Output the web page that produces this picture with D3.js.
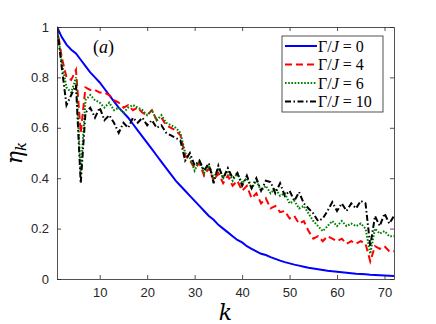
<!DOCTYPE html>
<html lang='en'>
  <head>
    <style type='text/css'>
      body {margin: 0; background-color: #fff;}
    </style>
  </head>
  <body>
    <svg id='chart' width='436' height='324'></svg>

    <script src='https://d3js.org/d3.v7.min.js'></script>
    <script type='text/javascript'>
        // k = 1..72
        var kValues = d3.range(1, 73);
        var xTicks = [10, 20, 30, 40, 50, 60, 70];
        var yTicks = [0, 0.2, 0.4, 0.6, 0.8, 1];
        var seriesNames = ['0', '4', '6', '10'];

        var eta0 = [1.00, 0.96, 0.93, 0.91, 0.895, 0.87, 0.845, 0.82, 0.80, 0.78,
                    0.755, 0.73, 0.705, 0.68, 0.66, 0.64, 0.615, 0.59, 0.565, 0.54,
                    0.515, 0.49, 0.465, 0.44, 0.415, 0.39, 0.37, 0.35, 0.33, 0.31,
                    0.29, 0.27, 0.25, 0.235, 0.215, 0.20, 0.185, 0.17, 0.155, 0.145,
                    0.13, 0.12, 0.11, 0.10, 0.095, 0.087, 0.08, 0.073, 0.067, 0.062,
                    0.057, 0.053, 0.049, 0.045, 0.042, 0.039, 0.036, 0.033, 0.031, 0.029,
                    0.027, 0.025, 0.023, 0.021, 0.020, 0.019, 0.017, 0.016, 0.015, 0.014,
                    0.013, 0.012];
        var eta4 = [1.00, 0.88, 0.80, 0.79, 0.83, 0.58, 0.76, 0.75, 0.75, 0.74,
                    0.74, 0.73, 0.71, 0.70, 0.68, 0.69, 0.67, 0.68, 0.66, 0.65,
                    0.67, 0.63, 0.64, 0.61, 0.60, 0.59, 0.57, 0.49, 0.47, 0.44,
                    0.46, 0.41, 0.44, 0.39, 0.42, 0.38, 0.41, 0.37, 0.39, 0.35,
                    0.37, 0.32, 0.34, 0.30, 0.32, 0.28, 0.29, 0.265, 0.27, 0.24,
                    0.25, 0.22, 0.23, 0.19, 0.16, 0.17, 0.15, 0.17, 0.16, 0.15,
                    0.16, 0.14, 0.15, 0.14, 0.15, 0.14, 0.07, 0.13, 0.12, 0.13,
                    0.11, 0.11];
        var eta6 = [1.00, 0.86, 0.76, 0.74, 0.80, 0.42, 0.71, 0.73, 0.71, 0.70,
                    0.68, 0.70, 0.67, 0.68, 0.66, 0.68, 0.69, 0.68, 0.67, 0.65,
                    0.67, 0.63, 0.65, 0.62, 0.61, 0.60, 0.58, 0.50, 0.48, 0.43,
                    0.47, 0.42, 0.45, 0.40, 0.44, 0.40, 0.43, 0.39, 0.42, 0.38,
                    0.40, 0.36, 0.39, 0.35, 0.37, 0.34, 0.36, 0.33, 0.34, 0.30,
                    0.31, 0.28, 0.29, 0.26, 0.23, 0.21, 0.19, 0.21, 0.23, 0.21,
                    0.23, 0.21, 0.22, 0.21, 0.22, 0.20, 0.10, 0.20, 0.18, 0.19,
                    0.17, 0.17];
        var eta10 = [1.00, 0.84, 0.69, 0.73, 0.77, 0.38, 0.66, 0.68, 0.64, 0.68,
                     0.63, 0.65, 0.62, 0.58, 0.62, 0.60, 0.64, 0.62, 0.64, 0.61,
                     0.63, 0.60, 0.61, 0.58, 0.57, 0.56, 0.55, 0.47, 0.50, 0.45,
                     0.47, 0.43, 0.46, 0.38, 0.45, 0.40, 0.44, 0.40, 0.42, 0.37,
                     0.41, 0.36, 0.40, 0.35, 0.39, 0.385, 0.34, 0.38, 0.33, 0.35,
                     0.31, 0.345, 0.30, 0.28, 0.26, 0.23, 0.24, 0.27, 0.305, 0.27,
                     0.30, 0.27, 0.30, 0.28, 0.31, 0.30, 0.13, 0.25, 0.21, 0.26,
                     0.22, 0.25];

        var colors = ['#0000ff', '#ff0000', '#008000', '#000000'];
        var dashes = [null, '7,4', '1.6,1.6', '6,2.5,1.5,2.5'];
        var allSeries = [eta0, eta4, eta6, eta10];

        var svg = d3.select('#chart');
        var mLeft = 57, mRight = 394, mTop = 27, mBottom = 279;

        var x = d3.scaleLinear().domain([1, 72]).range([mLeft, mRight]);
        var y = d3.scaleLinear().domain([0, 1]).range([mBottom, mTop]);

        svg.append('clipPath').attr('id', 'clip')
          .append('rect').attr('x', mLeft).attr('y', mTop - 2)
          .attr('width', mRight - mLeft).attr('height', mBottom - mTop + 2);

        var line = d3.line()
          .x(function(d, i) { return x(kValues[i]); })
          .y(function(d) { return y(d); });

        allSeries.forEach(function(s, i) {
          svg.append('path')
            .attr('clip-path', 'url(#clip)')
            .attr('d', line(s))
            .attr('fill', 'none')
            .attr('stroke', colors[i])
            .attr('stroke-width', 2)
            .attr('stroke-dasharray', dashes[i]);
        });

        // axes (matlab style: box on, ticks inward)
        var axisColor = '#262626';
        var tickFont = '"Liberation Sans", Arial, sans-serif';

        var xb = svg.append('g').attr('transform', 'translate(0,' + mBottom + ')')
          .call(d3.axisBottom(x).tickValues(xTicks).tickSizeInner(-4).tickSizeOuter(0).tickPadding(9));
        var xt = svg.append('g').attr('transform', 'translate(0,' + mTop + ')')
          .call(d3.axisTop(x).tickValues(xTicks).tickSizeInner(-4).tickSizeOuter(0).tickFormat(''));
        var yl = svg.append('g').attr('transform', 'translate(' + mLeft + ',0)')
          .call(d3.axisLeft(y).tickValues(yTicks).tickSizeInner(-4).tickSizeOuter(0).tickPadding(8)
            .tickFormat(function(d) { return d === 0 || d === 1 ? d : d3.format('.1f')(d); }));
        var yr = svg.append('g').attr('transform', 'translate(' + mRight + ',0)')
          .call(d3.axisRight(y).tickValues(yTicks).tickSizeInner(-4).tickSizeOuter(0).tickFormat(''));

        [xb, xt, yl, yr].forEach(function(g) {
          g.selectAll('path').attr('stroke', axisColor).attr('stroke-width', 0.8);
          g.selectAll('line').attr('stroke', axisColor).attr('stroke-width', 0.8);
          g.selectAll('text').attr('font-family', tickFont).attr('font-size', 13)
            .attr('fill', axisColor);
        });

        // axis labels
        svg.append('text')
          .attr('x', (mLeft + mRight) / 2).attr('y', 320)
          .attr('text-anchor', 'middle')
          .attr('font-family', '"DejaVu Serif", "Liberation Serif", serif')
          .attr('font-style', 'italic').attr('font-size', 22)
          .attr('fill', '#000')
          .text('k');

        var ylab = svg.append('text')
          .attr('transform', 'translate(22,153) rotate(-90)')
          .attr('text-anchor', 'middle')
          .attr('font-family', '"DejaVu Serif", "Liberation Serif", serif')
          .attr('font-style', 'italic').attr('font-size', 22)
          .attr('fill', '#000');
        ylab.append('tspan').text('\u03b7');
        ylab.append('tspan').attr('font-size', 15).attr('dy', 4).text('k');

        // panel label
        var pl = svg.append('text')
          .attr('x', 93).attr('y', 53)
          .attr('font-family', '"Liberation Serif", "DejaVu Serif", serif')
          .attr('font-size', 18)
          .attr('fill', '#000');
        pl.append('tspan').text('(');
        pl.append('tspan').attr('font-style', 'italic').text('a');
        pl.append('tspan').text(')');

        // legend
        var lg = svg.append('g');
        lg.append('rect')
          .attr('x', 282).attr('y', 36).attr('width', 101).attr('height', 76)
          .attr('fill', '#fff').attr('stroke', axisColor).attr('stroke-width', 0.8);

        seriesNames.forEach(function(name, i) {
          var yy = 46 + i * 18.5;
          lg.append('line')
            .attr('x1', 285).attr('x2', 317).attr('y1', yy).attr('y2', yy)
            .attr('stroke', colors[i]).attr('stroke-width', 2)
            .attr('stroke-dasharray', dashes[i]);
          var t = lg.append('text')
            .attr('x', 318).attr('y', yy + 5.5)
            .attr('font-family', '"Liberation Serif", "DejaVu Serif", serif')
            .attr('font-size', 16)
            .attr('fill', '#000');
          t.append('tspan').text('\u0393/');
          t.append('tspan').attr('font-style', 'italic').text('J');
          t.append('tspan').text(' = ' + name);
        });
    </script>
  </body>
</html>
